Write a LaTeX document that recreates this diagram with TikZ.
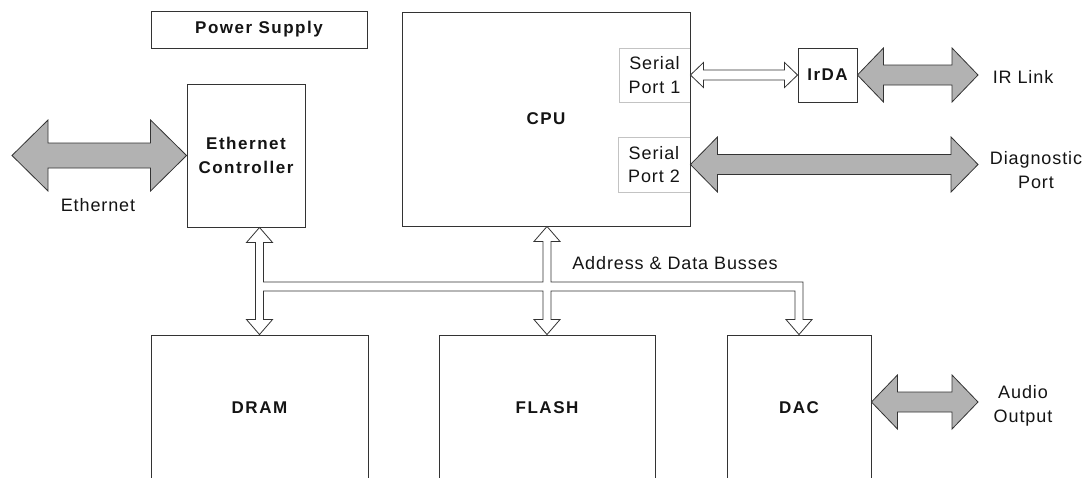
\documentclass[tikz,border=0pt]{standalone}
\usepackage{fontspec}
\setmainfont{Liberation Sans}
\newfontfamily\lblfont[LetterSpace=5]{Liberation Sans}
\newfontfamily\boldlbl[LetterSpace=9]{Liberation Sans}
\usetikzlibrary{calc}
\definecolor{linec}{RGB}{51,51,51}
\definecolor{portc}{RGB}{195,195,195}
\definecolor{hatchc}{RGB}{178,178,178}
\definecolor{textc}{RGB}{20,20,20}
\newcommand\dblarrow[6]{\path[#1] let \p1=(#2), \p2=(#3) in
  (\x1,\y1) -- (\x1+#6,\y1+#5) -- (\x1+#6,\y1+#4) -- (\x2-#6,\y1+#4) -- (\x2-#6,\y1+#5)
  -- (\x2,\y1) -- (\x2-#6,\y1-#5) -- (\x2-#6,\y1-#4) -- (\x1+#6,\y1-#4) -- (\x1+#6,\y1-#5) -- cycle;}
\tikzset{
  blk/.style={draw=linec, line width=0.9pt, inner sep=0pt, align=center, text=textc,
    font=\boldlbl\bfseries\fontsize{17}{24}\selectfont},
  port/.style={draw=portc, line width=0.9pt, inner sep=0pt, align=center, text=textc,
    font=\lblfont\fontsize{18}{23.5}\selectfont},
  lbl/.style={inner sep=0pt, align=center, text=textc, font=\lblfont\fontsize{18}{23.5}\selectfont},
  hatch/.style={draw=linec, line width=0.8pt, fill=hatchc, line join=miter},
  hollow/.style={draw=linec, line width=0.8pt, fill=white, line join=miter}
}
\begin{document}
\begin{tikzpicture}[x=1pt,y=-1pt]
\useasboundingbox (0,0) rectangle (1086,477);
\fill[white] (0,0) rectangle (1086,477);
\clip (0,0) rectangle (1086,477);
% boxes
\node[blk, minimum width=216pt, minimum height=37pt] (ps) at (259,29.5) {Power Supply};
\node[port, minimum width=71pt, minimum height=54pt] (sp1) at (654.5,75) {Serial\\Port 1};
\node[port, minimum width=72pt, minimum height=55pt] (sp2) at (654,164.5) {Serial\\Port 2};
\node[blk, minimum width=288pt, minimum height=214pt] (cpu) at (546,119) {CPU};
\node[blk, minimum width=59pt, minimum height=54pt] (irda) at (827.5,75) {IrDA};
\node[blk, minimum width=118pt, minimum height=143pt] (ec) at (246,155.5) {Ethernet\\Controller};
\node[blk, minimum width=217pt, minimum height=145pt] (dram) at (259.5,407.5) {DRAM};
\node[blk, minimum width=216pt, minimum height=145pt] (flash) at (547,407.5) {FLASH};
\node[blk, minimum width=144pt, minimum height=145pt] (dac) at (799,407.5) {DAC};
% labels
\node[lbl] (ethlbl) at (98,205) {Ethernet};
\node[lbl] (irlbl) at (1023,77) {IR Link};
\node[lbl] (diaglbl) at (1036,170) {Diagnostic\\Port};
\node[lbl] (audlbl) at (1023,406) {Audio\\Output};
\node[lbl] (buslbl) at (675,263) {Address \& Data Busses};
% free ends
\coordinate (ethL) at (12,155.5);
\coordinate (irR) at (978,75);
\coordinate (diagR) at (978,164.5);
\coordinate (audR) at (978,402);
\coordinate (busY) at (0,286.5);
% hatched double arrows
\dblarrow{hatch}{ethL}{ec.west}{12.5pt}{35.5pt}{36pt}
\dblarrow{hatch}{irda.east}{irR}{10pt}{27pt}{26pt}
\dblarrow{hatch}{sp2.east}{diagR}{10pt}{27.5pt}{27pt}
\dblarrow{hatch}{dac.east |- audR}{audR}{10pt}{27pt}{26pt}
% hollow serial arrow
\dblarrow{hollow}{sp1.east}{irda.west}{5pt}{12.5pt}{13pt}
% bus
\path[hollow] let \p1=(dram.north |- ec.south), \p2=(flash.north |- cpu.south),
  \p3=(dram.north), \p4=(flash.north), \p5=(dac.north), \p6=(busY) in
  (\x3-4pt,\y3+15pt) -- (\x1-4pt,\y1-15pt) -- (\x1-13pt,\y1-15pt) -- (\x1,\y1)
  -- (\x1+13pt,\y1-15pt) -- (\x1+4pt,\y1-15pt) -- (\x1+4pt,\y6+4.5pt)
  -- (\x2-4pt,\y6+4.5pt) -- (\x2-4pt,\y2-15pt) -- (\x2-13pt,\y2-15pt) -- (\x2,\y2)
  -- (\x2+13pt,\y2-15pt) -- (\x2+4pt,\y2-15pt) -- (\x2+4pt,\y6+4.5pt)
  -- (\x5+4pt,\y6+4.5pt) -- (\x5+4pt,\y5+15pt) -- (\x5+13pt,\y5+15pt) -- (\x5,\y5)
  -- (\x5-13pt,\y5+15pt) -- (\x5-4pt,\y5+15pt) -- (\x5-4pt,\y6-4.5pt)
  -- (\x4+4pt,\y6-4.5pt) -- (\x4+4pt,\y4+15pt) -- (\x4+13pt,\y4+15pt) -- (\x4,\y4)
  -- (\x4-13pt,\y4+15pt) -- (\x4-4pt,\y4+15pt) -- (\x4-4pt,\y6-4.5pt)
  -- (\x3+4pt,\y6-4.5pt) -- (\x3+4pt,\y3+15pt) -- (\x3+13pt,\y3+15pt) -- (\x3,\y3)
  -- (\x3-13pt,\y3+15pt) -- cycle;
\end{tikzpicture}
\end{document}
